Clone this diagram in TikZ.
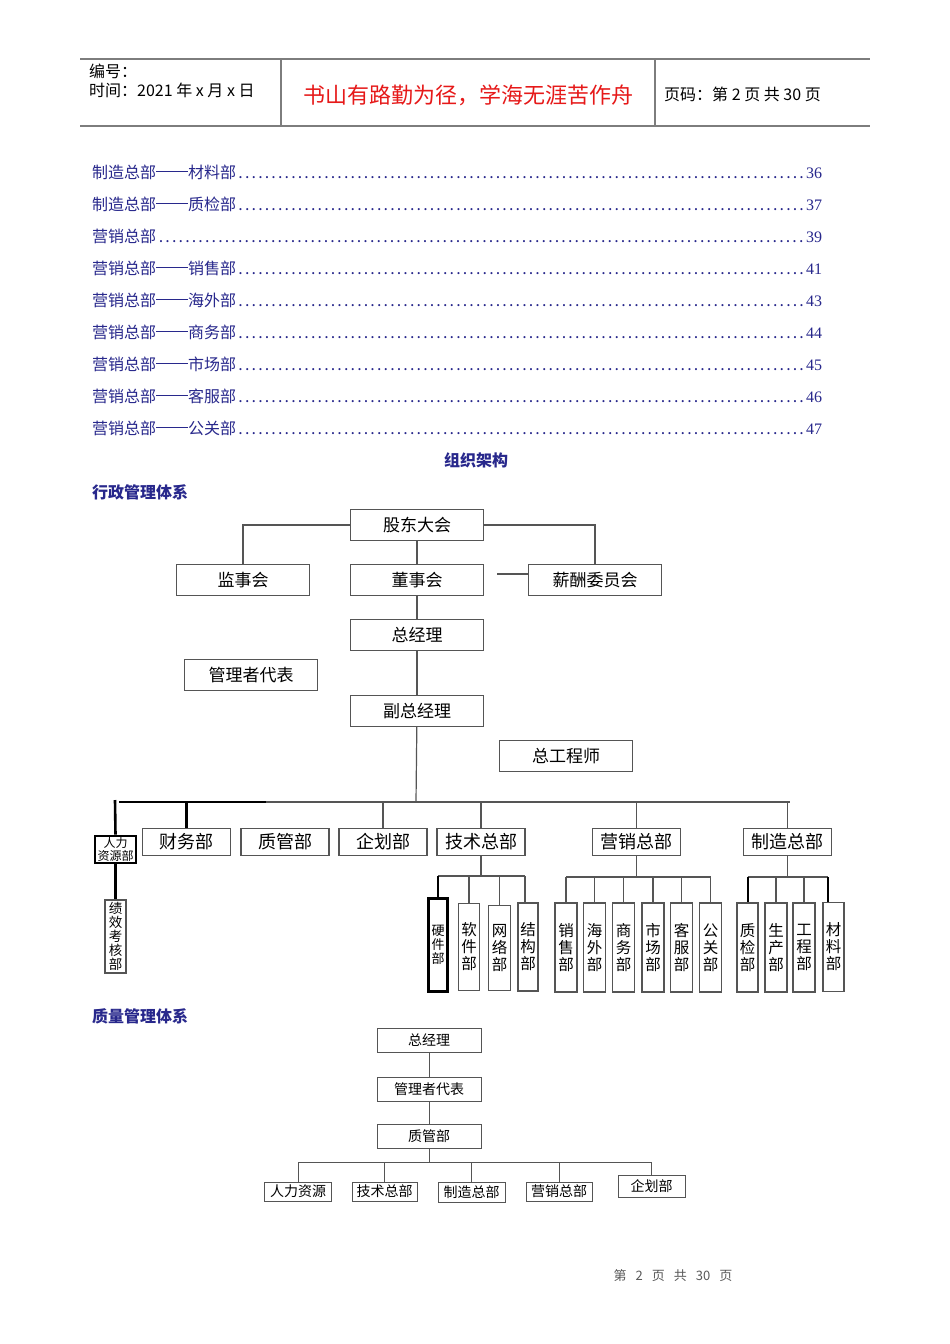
\documentclass[tikz,border=0pt]{standalone}
\usepackage{fontspec}
\setmainfont{Noto Sans CJK SC}
\newfontfamily\numfont{Liberation Serif}
\usetikzlibrary{positioning}

\definecolor{tocblue}{RGB}{40,40,140}
\definecolor{headred}{RGB}{230,25,25}
\definecolor{rulegray}{RGB}{125,125,125}
\definecolor{boxgray}{RGB}{85,85,85}

\newcommand\tocdash{\rule[0.36em]{2em}{0.06em}}
\newcommand\tocline[2]{\makebox[730pt][l]{#1\cleaders\hbox to 6.6pt{\hss.\hss}\hfill{\numfont #2}}}

\tikzset{
  box/.style={draw=boxgray,line width=1.3pt,fill=white,inner sep=0pt,
    minimum width=133,minimum height=31,font=\fontsize{17}{17}\selectfont},
  dept/.style={box,minimum width=88,minimum height=27,font=\fontsize{18}{18}\selectfont},
  vbox/.style={draw=boxgray,line width=1.2pt,fill=white,inner sep=0pt,
    minimum width=22,minimum height=89,align=center,font=\fontsize{15.5}{17}\selectfont},
  qbox/.style={draw=boxgray,line width=1pt,fill=white,inner sep=0pt,
    minimum width=104,minimum height=24,font=\fontsize{14}{14}\selectfont},
  qdept/.style={qbox,minimum width=67,minimum height=19,font=\fontsize{14}{14}\selectfont},
  link/.style={draw=boxgray,line width=1.2pt},
  boldlink/.style={draw=black,line width=2.6pt},
  toc/.style={anchor=west,inner sep=0pt,text=tocblue,font=\fontsize{16}{16}\selectfont},
  heading/.style={inner sep=0pt,text=tocblue,font=\fontsize{16}{16}\selectfont\bfseries},
}

\begin{document}
\begin{tikzpicture}[x=1pt,y=-1pt]
  \useasboundingbox[fill=white] (0,0) rectangle (950,1344);

  % page header
  \draw[rulegray,line width=1.4pt] (80,59) -- (870,59);
  \draw[rulegray,line width=1.4pt] (80,126) -- (870,126);
  \draw[rulegray,line width=1.2pt] (281,59) -- (281,126);
  \draw[rulegray,line width=1.2pt] (655,59) -- (655,126);
  \node[anchor=west,inner sep=0pt,font=\fontsize{16}{16}\selectfont] (hd-no) at (89,71) {编号：};
  \node[anchor=west,inner sep=0pt,font=\fontsize{16}{16}\selectfont] (hd-time) at (89,90) {时间：2021 年 x 月 x 日};
  \node[text=headred,inner sep=0pt,font=\fontsize{22}{22}\selectfont] (hd-motto) at (468,95) {书山有路勤为径，学海无涯苦作舟};
  \node[anchor=west,inner sep=0pt,font=\fontsize{16}{16}\selectfont] (hd-page) at (664,94) {页码：第 2 页 共 30 页};

  % contents
  \node[toc] (toc-1) at (92,172) {\tocline{制造总部\tocdash 材料部}{36}};
  \node[toc] (toc-2) at (92,204) {\tocline{制造总部\tocdash 质检部}{37}};
  \node[toc] (toc-3) at (92,236) {\tocline{营销总部}{39}};
  \node[toc] (toc-4) at (92,268) {\tocline{营销总部\tocdash 销售部}{41}};
  \node[toc] (toc-5) at (92,300) {\tocline{营销总部\tocdash 海外部}{43}};
  \node[toc] (toc-6) at (92,332) {\tocline{营销总部\tocdash 商务部}{44}};
  \node[toc] (toc-7) at (92,364) {\tocline{营销总部\tocdash 市场部}{45}};
  \node[toc] (toc-8) at (92,396) {\tocline{营销总部\tocdash 客服部}{46}};
  \node[toc] (toc-9) at (92,428) {\tocline{营销总部\tocdash 公关部}{47}};

  \node[heading] (title) at (476,460) {组织架构};
  \node[heading,anchor=west] (sys-1) at (92,492) {行政管理体系};

  % administration chart
  \node[box] (gd) at (417,525) {股东大会};
  \node[box] (jsh) at (243,580) {监事会};
  \node[box] (dsh) at (417,580) {董事会};
  \node[box] (xc) at (595,580) {薪酬委员会};
  \node[box] (zjl) at (417,635) {总经理};
  \node[box] (glz) at (251,675) {管理者代表};
  \node[box] (fzjl) at (417,711) {副总经理};
  \node[box] (zgcs) at (566,756) {总工程师};

  \draw[link] (gd.west) -| (jsh.north);
  \draw[link] (gd.east) -| (xc.north);
  \draw[link] (gd) -- (dsh);
  \coordinate (xc-stub) at (497,574);
  \draw[link] (xc-stub) -- (xc.west |- xc-stub);
  \draw[link] (dsh) -- (zjl);
  \draw[link] (zjl) -- (fzjl);

  \coordinate (bus) at (416,802);
  \coordinate (bus-l) at (119,802);
  \coordinate (bus-m) at (266,802);
  \coordinate (bus-r) at (790,802);
  \draw[link] (fzjl) -- (bus);
  \draw[link] (bus-m) -- (bus-r);
  \draw[boldlink] (bus-l) -- (bus-m);

  \node[draw=black,line width=2.6pt,fill=white,inner sep=0pt,minimum width=41,minimum height=27,
    align=center,font=\fontsize{12}{11}\selectfont] (rlzy) at (115.5,849.5) {人力\\资源部};
  \node[dept] (cw) at (186.5,842) {财务部};
  \node[dept] (zg) at (285,842) {质管部};
  \node[dept] (qh) at (383,842) {企划部};
  \node[dept] (jszb) at (481,842) {技术总部};
  \node[dept] (yx) at (636.5,842) {营销总部};
  \node[dept] (zz) at (787.5,842) {制造总部};

  \coordinate (rlzy-top) at (115,800);
  \draw[boldlink] (rlzy-top) -- (rlzy.north);
  \draw[boldlink] (cw.north) -- (cw.north |- bus);
  \draw[link] (qh.north) -- (qh.north |- bus);
  \draw[link] (jszb.north) -- (jszb.north |- bus);
  \draw[link] (yx.north) -- (yx.north |- bus);
  \draw[link] (zz.north) -- (zz.north |- bus);

  \node[vbox,minimum width=21,minimum height=73,font=\fontsize{13.5}{14}\selectfont] (jx) at (115.5,936.5) {绩\\效\\考\\核\\部};
  \draw[boldlink] (rlzy) -- (jx);

  % technology branch
  \node[vbox,draw=black,line width=2.6pt,minimum width=19,minimum height=93,font=\fontsize{13}{14}\selectfont] (yj) at (438,945) {硬\\件\\部};
  \node[vbox,minimum width=21,minimum height=87] (rj) at (469,947) {软\\件\\部};
  \node[vbox,minimum height=85] (wl) at (499.5,948) {网\\络\\部};
  \node[vbox,minimum width=20,minimum height=88] (jg) at (528,947) {结\\构\\部};
  \coordinate (js-bus) at (481,876);
  \draw[link] (jszb) -- (js-bus);
  \draw[link] (yj.north |- js-bus) -- ([xshift=-3pt]jg.north |- js-bus);
  \draw[boldlink,line width=2pt] (yj.north |- js-bus) -- (yj.north);
  \draw[link] (rj.north |- js-bus) -- (rj.north);
  \draw[link] (wl.north |- js-bus) -- (wl.north);
  \draw[link] ([xshift=-3pt]jg.north |- js-bus) -- ([xshift=-3pt]jg.north);

  % marketing branch
  \node[vbox] (xs) at (566,947.5) {销\\售\\部};
  \node[vbox] (hw) at (594.5,947.5) {海\\外\\部};
  \node[vbox] (sw) at (623.5,947.5) {商\\务\\部};
  \node[vbox] (sc) at (653,947.5) {市\\场\\部};
  \node[vbox] (kf) at (681.5,947.5) {客\\服\\部};
  \node[vbox] (gg) at (710.5,947.5) {公\\关\\部};
  \coordinate (yx-bus) at (636.5,877);
  \draw[link] (yx) -- (yx-bus);
  \draw[link] (xs.north |- yx-bus) -- (gg.north |- yx-bus);
  \draw[link] (xs.north |- yx-bus) -- (xs.north);
  \draw[link] (hw.north |- yx-bus) -- (hw.north);
  \draw[link] (sw.north |- yx-bus) -- (sw.north);
  \draw[link] (sc.north |- yx-bus) -- (sc.north);
  \draw[link] (kf.north |- yx-bus) -- (kf.north);
  \draw[link] (gg.north |- yx-bus) -- (gg.north);

  % manufacturing branch
  \node[vbox,minimum width=21] (zj) at (747.5,947.5) {质\\检\\部};
  \node[vbox] (sca) at (776,947.5) {生\\产\\部};
  \node[vbox] (gc) at (804,947.5) {工\\程\\部};
  \node[vbox,minimum width=21] (cl) at (833.5,947) {材\\料\\部};
  \coordinate (zz-bus) at (787.5,877);
  \draw[link] (zz) -- (zz-bus);
  \draw[link] (zj.north |- zz-bus) -- ([xshift=-6pt]cl.north |- zz-bus);
  \draw[boldlink,line width=2pt] (zj.north |- zz-bus) -- (zj.north);
  \draw[link] (sca.north |- zz-bus) -- (sca.north);
  \draw[link] (gc.north |- zz-bus) -- (gc.north);
  \draw[boldlink,line width=2pt] ([xshift=-6pt]cl.north |- zz-bus) -- ([xshift=-6pt]cl.north);

  % quality chart
  \node[heading,anchor=west] (sys-2) at (92,1016) {质量管理体系};
  \node[qbox] (q-zjl) at (429,1040) {总经理};
  \node[qbox] (q-glz) at (429,1089) {管理者代表};
  \node[qbox] (q-zgb) at (429,1136.5) {质管部};
  \draw[link,line width=1pt] (q-zjl) -- (q-glz);
  \draw[link,line width=1pt] (q-glz) -- (q-zgb);

  \node[qdept] (q-rl) at (298,1191.5) {人力资源};
  \node[qdept,minimum width=65] (q-js) at (384.5,1191.5) {技术总部};
  \node[qdept,minimum height=20] (q-zz) at (471.5,1192) {制造总部};
  \node[qdept,minimum width=66] (q-yx) at (559,1191.5) {营销总部};
  \node[qdept,minimum height=22] (q-qh) at (651.5,1186) {企划部};
  \coordinate (q-bus) at (429,1162);
  \draw[link,line width=1pt] (q-zgb) -- (q-bus);
  \draw[link,line width=1pt] (q-rl.north |- q-bus) -- (q-qh.north |- q-bus);
  \draw[link,line width=1pt] (q-rl.north |- q-bus) -- (q-rl.north);
  \draw[link,line width=1pt] (q-js.north |- q-bus) -- (q-js.north);
  \draw[link,line width=1pt] (q-zz.north |- q-bus) -- (q-zz.north);
  \draw[link,line width=1pt] (q-yx.north |- q-bus) -- (q-yx.north);
  \draw[link,line width=1pt] (q-qh.north |- q-bus) -- (q-qh.north);

  % page footer
  \node[text=black!65,inner sep=0pt,font=\fontsize{13}{13}\selectfont] (foot) at (673,1276)
    {第\hspace{9pt}2\hspace{9pt}页\hspace{9pt}共\hspace{9pt}30\hspace{9pt}页};
\end{tikzpicture}
\end{document}
